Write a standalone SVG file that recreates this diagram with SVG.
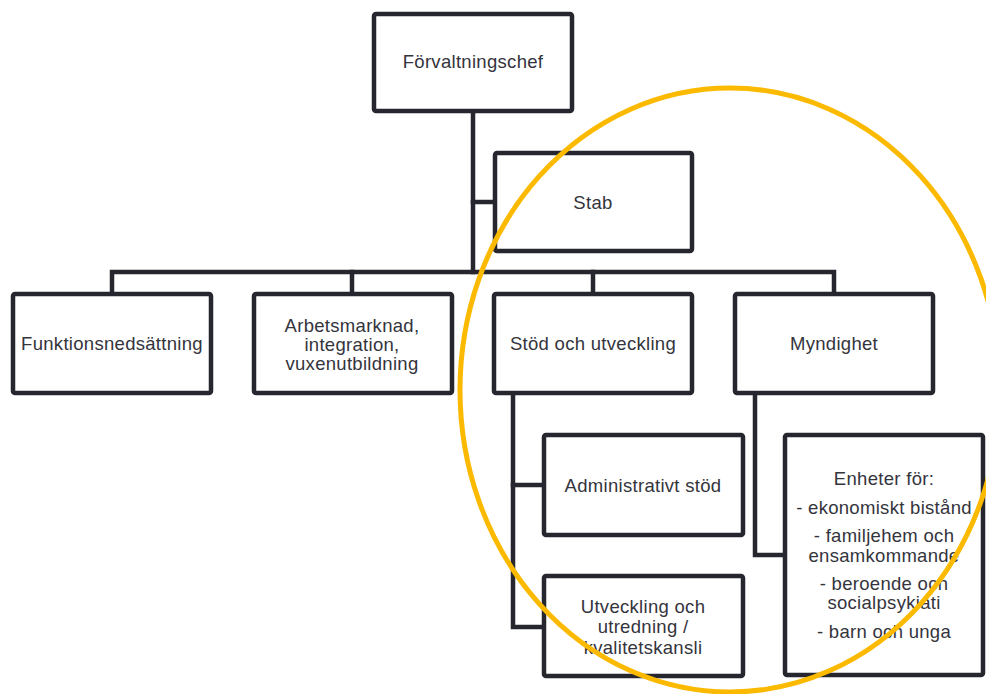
<svg xmlns="http://www.w3.org/2000/svg" width="986" height="694" viewBox="0 0 986 694">
<style>
.box{fill:#fff;stroke:#26262e;stroke-width:4.5}
.con{fill:none;stroke:#26262e;stroke-width:4.5;stroke-linejoin:miter;stroke-linecap:square}
text{font-family:"Liberation Sans",Arial,sans-serif;font-size:18.5px;letter-spacing:0.3px;fill:#34343c;text-anchor:middle;dominant-baseline:central}
</style>
<rect width="986" height="694" fill="#fff"/>
<g id="connectors">
<path class="con" d="M473,113 V272"/>
<path class="con" d="M473,202 H493"/>
<path class="con" d="M112,292 V272 H834 V292"/>
<path class="con" d="M352,272 V292"/>
<path class="con" d="M593,272 V292"/>
<path class="con" d="M513,395 V627 H542"/>
<path class="con" d="M513,485 H542"/>
<path class="con" d="M755,395 V555 H783"/>
</g>
<g id="forvaltningschef"><rect class="box" x="374" y="14" width="198" height="97" rx="2"/><text x="473" y="61">Förvaltningschef</text></g>
<g id="stab"><rect class="box" x="495" y="153" width="197" height="98" rx="2"/><text x="593" y="202">Stab</text></g>
<g id="funktionsnedsattning"><rect class="box" x="13" y="294" width="198" height="99" rx="2"/><text x="112" y="343">Funktionsnedsättning</text></g>
<g id="arbetsmarknad"><rect class="box" x="254" y="294" width="198" height="99" rx="2"/><text x="352" y="325">Arbetsmarknad,</text><text x="352" y="344">integration,</text><text x="352" y="363">vuxenutbildning</text></g>
<g id="stod"><rect class="box" x="494" y="294" width="198" height="99" rx="2"/><text x="593" y="343">Stöd och utveckling</text></g>
<g id="myndighet"><rect class="box" x="735" y="294" width="198" height="99" rx="2"/><text x="834" y="343">Myndighet</text></g>
<g id="administrativt"><rect class="box" x="544" y="435" width="199" height="100" rx="2"/><text x="643" y="485">Administrativt stöd</text></g>
<g id="utveckling"><rect class="box" x="544" y="576" width="199" height="100" rx="2"/><text x="643" y="606">Utveckling och</text><text x="643" y="626">utredning /</text><text x="643" y="647">kvalitetskansli</text></g>
<g id="enheter"><rect class="box" x="785" y="435" width="198" height="240" rx="2"/>
<text x="884" y="478">Enheter för:</text>
<text x="884" y="507">- ekonomiskt bistånd</text>
<text x="884" y="535">- familjehem och</text>
<text x="884" y="555">ensamkommande</text>
<text x="884" y="583">- beroende och</text>
<text x="884" y="602">socialpsykiati</text>
<text x="884" y="631">- barn och unga</text>
</g>
<ellipse cx="730" cy="390" rx="270" ry="302" fill="none" stroke="#FBBA00" stroke-width="5"/>
</svg>
